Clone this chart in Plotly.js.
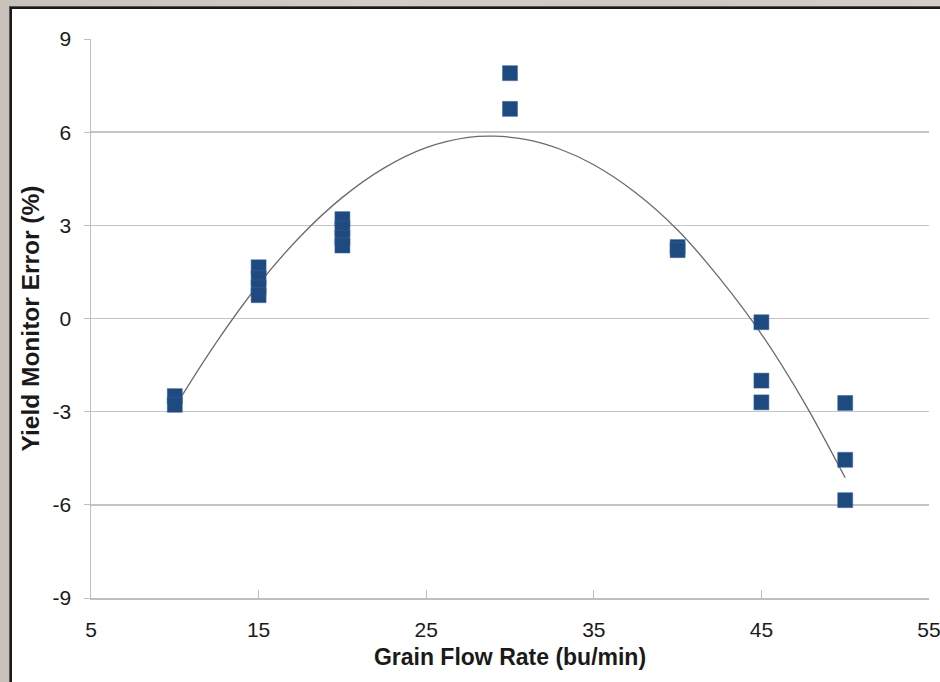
<!DOCTYPE html>
<html>
<head>
<meta charset="utf-8">
<script src="https://cdn.plot.ly/plotly-3.0.1.min.js"></script>
<style>
  html, body { margin: 0; padding: 0; }
  body { width: 940px; height: 682px; overflow: hidden; position: relative;
         background: linear-gradient(90deg, #c9c2ba 0%, #d3ccc4 40%, #cfc8c0 70%, #d5cec6 100%); }
  #frame { position: absolute; left: 10px; top: 7px; width: 940px; height: 690px;
           background: #ffffff; border-left: 2px solid #1a1a1a; border-top: 2px solid #1a1a1a;
           box-shadow: -1px -1px 0 #555; }
  #chart { position: absolute; left: 0; top: 0; width: 960px; height: 682px; }
</style>
</head>
<body>
<div id="frame"></div>
<div id="chart"></div>
<script>
// Measured points (grain flow rate in bu/min, yield monitor error in %)
const flowRate = [10, 10, 15, 15, 15, 15, 20, 20, 20, 20, 30, 30, 40, 40, 45, 45, 45, 50, 50, 50];
const monitorError = [-2.5, -2.78, 1.65, 1.3, 1.0, 0.75, 3.2, 2.9, 2.6, 2.35, 7.9, 6.75, 2.3, 2.2, -0.12, -2.0, -2.7, -2.72, -4.55, -5.85];

// Polynomial trendline
const trendX = [10, 12.5, 15, 17.5, 20, 22.5, 25, 27.5, 29, 31, 33, 35, 37.5, 40, 42.5, 45, 47.5, 50];
const trendY = [-2.85, -0.75, 1.1, 2.65, 3.9, 4.85, 5.5, 5.83, 5.87, 5.76, 5.45, 4.95, 4.05, 2.85, 1.3, -0.5, -2.65, -5.13];

const xTicks = [5, 15, 25, 35, 45, 55];
const yTicks = [-9, -6, -3, 0, 3, 6, 9];

const font = 'Liberation Sans, Arial, sans-serif';
const textColor = '#1a1a1a';

const traces = [
  {
    x: trendX, y: trendY, type: 'scatter', mode: 'lines',
    line: { color: '#6b6b6b', width: 1.3, shape: 'spline', smoothing: 1.0 },
    hoverinfo: 'skip', showlegend: false
  },
  {
    x: flowRate, y: monitorError, type: 'scatter', mode: 'markers',
    marker: { symbol: 'square', size: 15, color: '#1f4a80',
              line: { color: '#3a63a0', width: 0.5 } },
    showlegend: false
  }
];

const layout = {
  width: 960, height: 682,
  margin: { l: 91, r: 31, t: 39, b: 84 },
  paper_bgcolor: 'rgba(0,0,0,0)',
  plot_bgcolor: 'rgba(0,0,0,0)',
  font: { family: font, color: textColor, size: 21 },
  xaxis: {
    range: [5, 55], tickvals: xTicks, ticktext: xTicks.map(String),
    showgrid: false, zeroline: false,
    showline: true, linecolor: '#bfbfbf', linewidth: 1.5,
    ticks: 'inside', ticklen: 8, tickcolor: '#bfbfbf', tickwidth: 1,
    ticklabelstandoff: 12,
    tickfont: { family: font, size: 21, color: textColor },
    title: { text: 'Grain Flow Rate (bu/min)', standoff: 9,
             font: { family: font, size: 23, color: textColor, weight: 'bold' } }
  },
  yaxis: {
    range: [-9, 9], tickvals: yTicks, ticktext: yTicks.map(String),
    showgrid: true, gridcolor: '#c4c4c4', gridwidth: 1.5,
    zeroline: false,
    showline: true, linecolor: '#bfbfbf', linewidth: 1.5,
    ticks: 'outside', ticklen: 6, tickcolor: '#bfbfbf', tickwidth: 1,
    ticklabelstandoff: 8,
    tickfont: { family: font, size: 21, color: textColor },
    title: { text: 'Yield Monitor Error (%)', standoff: 6,
             font: { family: font, size: 24.5, color: textColor, weight: 'bold' } }
  }
};

Plotly.newPlot('chart', traces, layout, { staticPlot: true, displayModeBar: false });
</script>
</body>
</html>
